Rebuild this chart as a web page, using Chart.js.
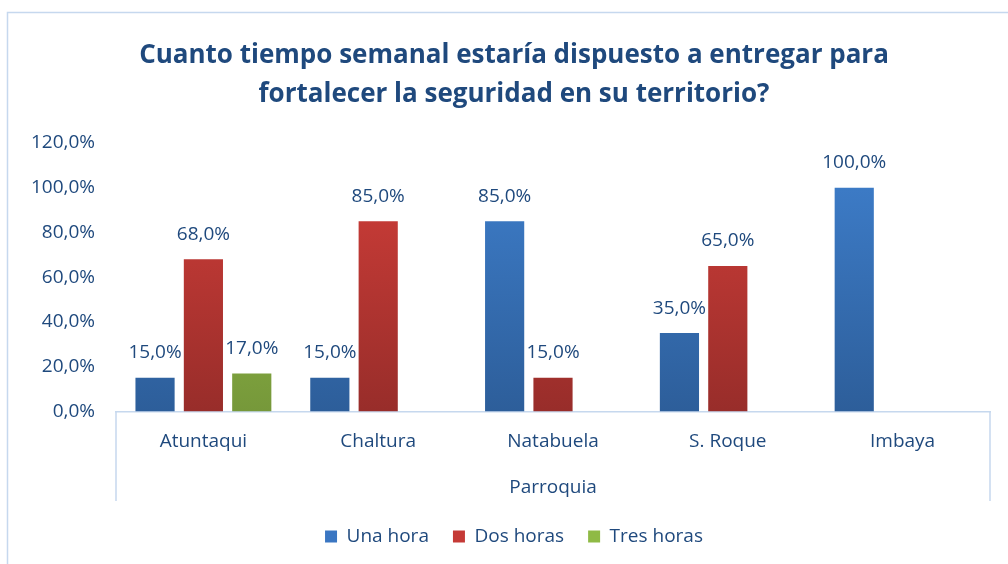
<!DOCTYPE html>
<html>
<head>
<meta charset="utf-8">
<script src="https://cdn.jsdelivr.net/npm/chart.js@4.4.1/dist/chart.umd.min.js"></script>
<style>
	body { margin: 0; background: #fff; }
	#wrap { width: 1008px; height: 564px; position: relative; }
</style>
</head>
<body>
<div id="wrap"><canvas id="myChart"></canvas></div>
<script>
const categories = ['Atuntaqui', 'Chaltura', 'Natabuela', 'S. Roque', 'Imbaya']
const unaHora = [15, 15, 85, 35, 100]
const dosHoras = [68, 85, 15, 65, null]
const tresHoras = [17, null, null, null, null]
const yTicks = [0, 20, 40, 60, 80, 100, 120]

const textColor = '#1F497D'
const lineColor = '#C6D8EE'
const fontFam = '"Open Sans", sans-serif'

const fmt = v => v.toFixed(1).replace('.', ',') + '%'

// vertical gradient for each series, top -> bottom
function grad(top, bottom) {
	return (ctx) => {
		const area = ctx.chart.chartArea
		if (!area) return top
		const el = ctx.element
		const y0 = el && el.y != null ? el.y : area.top
		const y1 = el && el.base != null ? el.base : area.bottom
		if (!isFinite(y0) || !isFinite(y1) || y0 === y1) return top
		const g = ctx.chart.ctx.createLinearGradient(0, y0, 0, y1)
		g.addColorStop(0, top)
		g.addColorStop(1, bottom)
		return g
	}
}

const frame = {
	id: 'frame',
	afterLayout(chart) {
		// title and legend sit a bit right of centre in the original
		if (chart.titleBlock) chart.titleBlock.left = 38
		if (chart.legend) chart.legend.left = 38
	},
	beforeDraw(chart) {
		const c = chart.ctx
		c.save()
		c.strokeStyle = lineColor
		c.lineWidth = 1.5
		c.beginPath()
		c.moveTo(7.5, 564)
		c.lineTo(7.5, 12.5)
		c.lineTo(1008, 12.5)
		c.stroke()
		c.restore()
	},
	afterDraw(chart) {
		const x = chart.scales.x
		const c = chart.ctx
		c.save()
		c.strokeStyle = lineColor
		c.lineWidth = 1.5
		c.beginPath()
		c.moveTo(x.left, chart.chartArea.bottom)
		c.lineTo(x.left, x.bottom - 2)
		c.moveTo(x.right, chart.chartArea.bottom)
		c.lineTo(x.right, x.bottom - 2)
		c.stroke()
		c.restore()
	}
}

const valueLabels = {
	id: 'valueLabels',
	afterDatasetsDraw(chart) {
		const c = chart.ctx
		c.save()
		c.fillStyle = textColor
		c.font = '19px ' + fontFam
		c.textAlign = 'center'
		c.textBaseline = 'middle'
		chart.data.datasets.forEach((ds, i) => {
			const meta = chart.getDatasetMeta(i)
			meta.data.forEach((bar, j) => {
				const v = ds.data[j]
				if (v == null) return
				c.fillText(fmt(v), bar.x, bar.y - 25)
			})
		})
		c.restore()
	}
}

let cfg = {
	type: 'bar',
	data: {
		labels: categories,
		datasets: [
			{
				label: 'Una hora',
				data: unaHora,
				backgroundColor: grad('#3F80CE', '#2D5E9A'),
				borderWidth: 0
			},
			{
				label: 'Dos horas',
				data: dosHoras,
				backgroundColor: grad('#D43F3A', '#982D2A'),
				borderWidth: 0
			},
			{
				label: 'Tres horas',
				data: tresHoras,
				backgroundColor: grad('#9CC84B', '#76983A'),
				borderWidth: 0
			}
		]
	},
	options: {
		responsive: true,
		maintainAspectRatio: false,
		animation: false,
		datasets: {
			bar: { categoryPercentage: 0.83, barPercentage: 0.81 }
		},
		layout: { padding: { left: 0, right: 18, top: 0, bottom: 8 } },
		scales: {
			y: {
				min: 0,
				max: 120,
				afterFit: (s) => { s.width = 116 },
				afterBuildTicks: (s) => { s.ticks = yTicks.map(v => ({ value: v })) },
				grid: { display: false, drawTicks: false },
				border: { display: false },
				ticks: {
					padding: 21,
					color: textColor,
					font: { family: fontFam, size: 19 },
					callback: (v) => fmt(v)
				}
			},
			x: {
				grid: { display: false, drawTicks: false },
				border: { display: true, color: lineColor, width: 1.5 },
				ticks: {
					padding: 19,
					color: textColor,
					font: { family: fontFam, size: 19 }
				},
				title: {
					display: true,
					text: 'Parroquia',
					color: textColor,
					font: { family: fontFam, size: 19 },
					padding: { top: 4, bottom: 4 }
				}
			}
		},
		plugins: {
			title: {
				display: true,
				text: ['Cuanto tiempo semanal estaría dispuesto a entregar para', 'fortalecer la seguridad en su territorio?'],
				color: textColor,
				font: { family: fontFam, size: 26, weight: 'bold', lineHeight: 1.5 },
				padding: { top: 36, bottom: 29 }
			},
			legend: {
				position: 'bottom',
				labels: {
					color: textColor,
					font: { family: fontFam, size: 19 },
					boxWidth: 12,
					boxHeight: 12,
					padding: 24,
					generateLabels: (chart) => chart.data.datasets.map((ds, i) => ({
						text: ds.label,
						fillStyle: ['#3A76C2', '#C53A36', '#8FBA45'][i],
						strokeStyle: 'rgba(0,0,0,0)',
						lineWidth: 0,
						fontColor: textColor,
						datasetIndex: i
					}))
				}
			},
			tooltip: { enabled: false }
		}
	},
	plugins: [frame, valueLabels]
}

new Chart('myChart', cfg)
</script>
</body>
</html>
